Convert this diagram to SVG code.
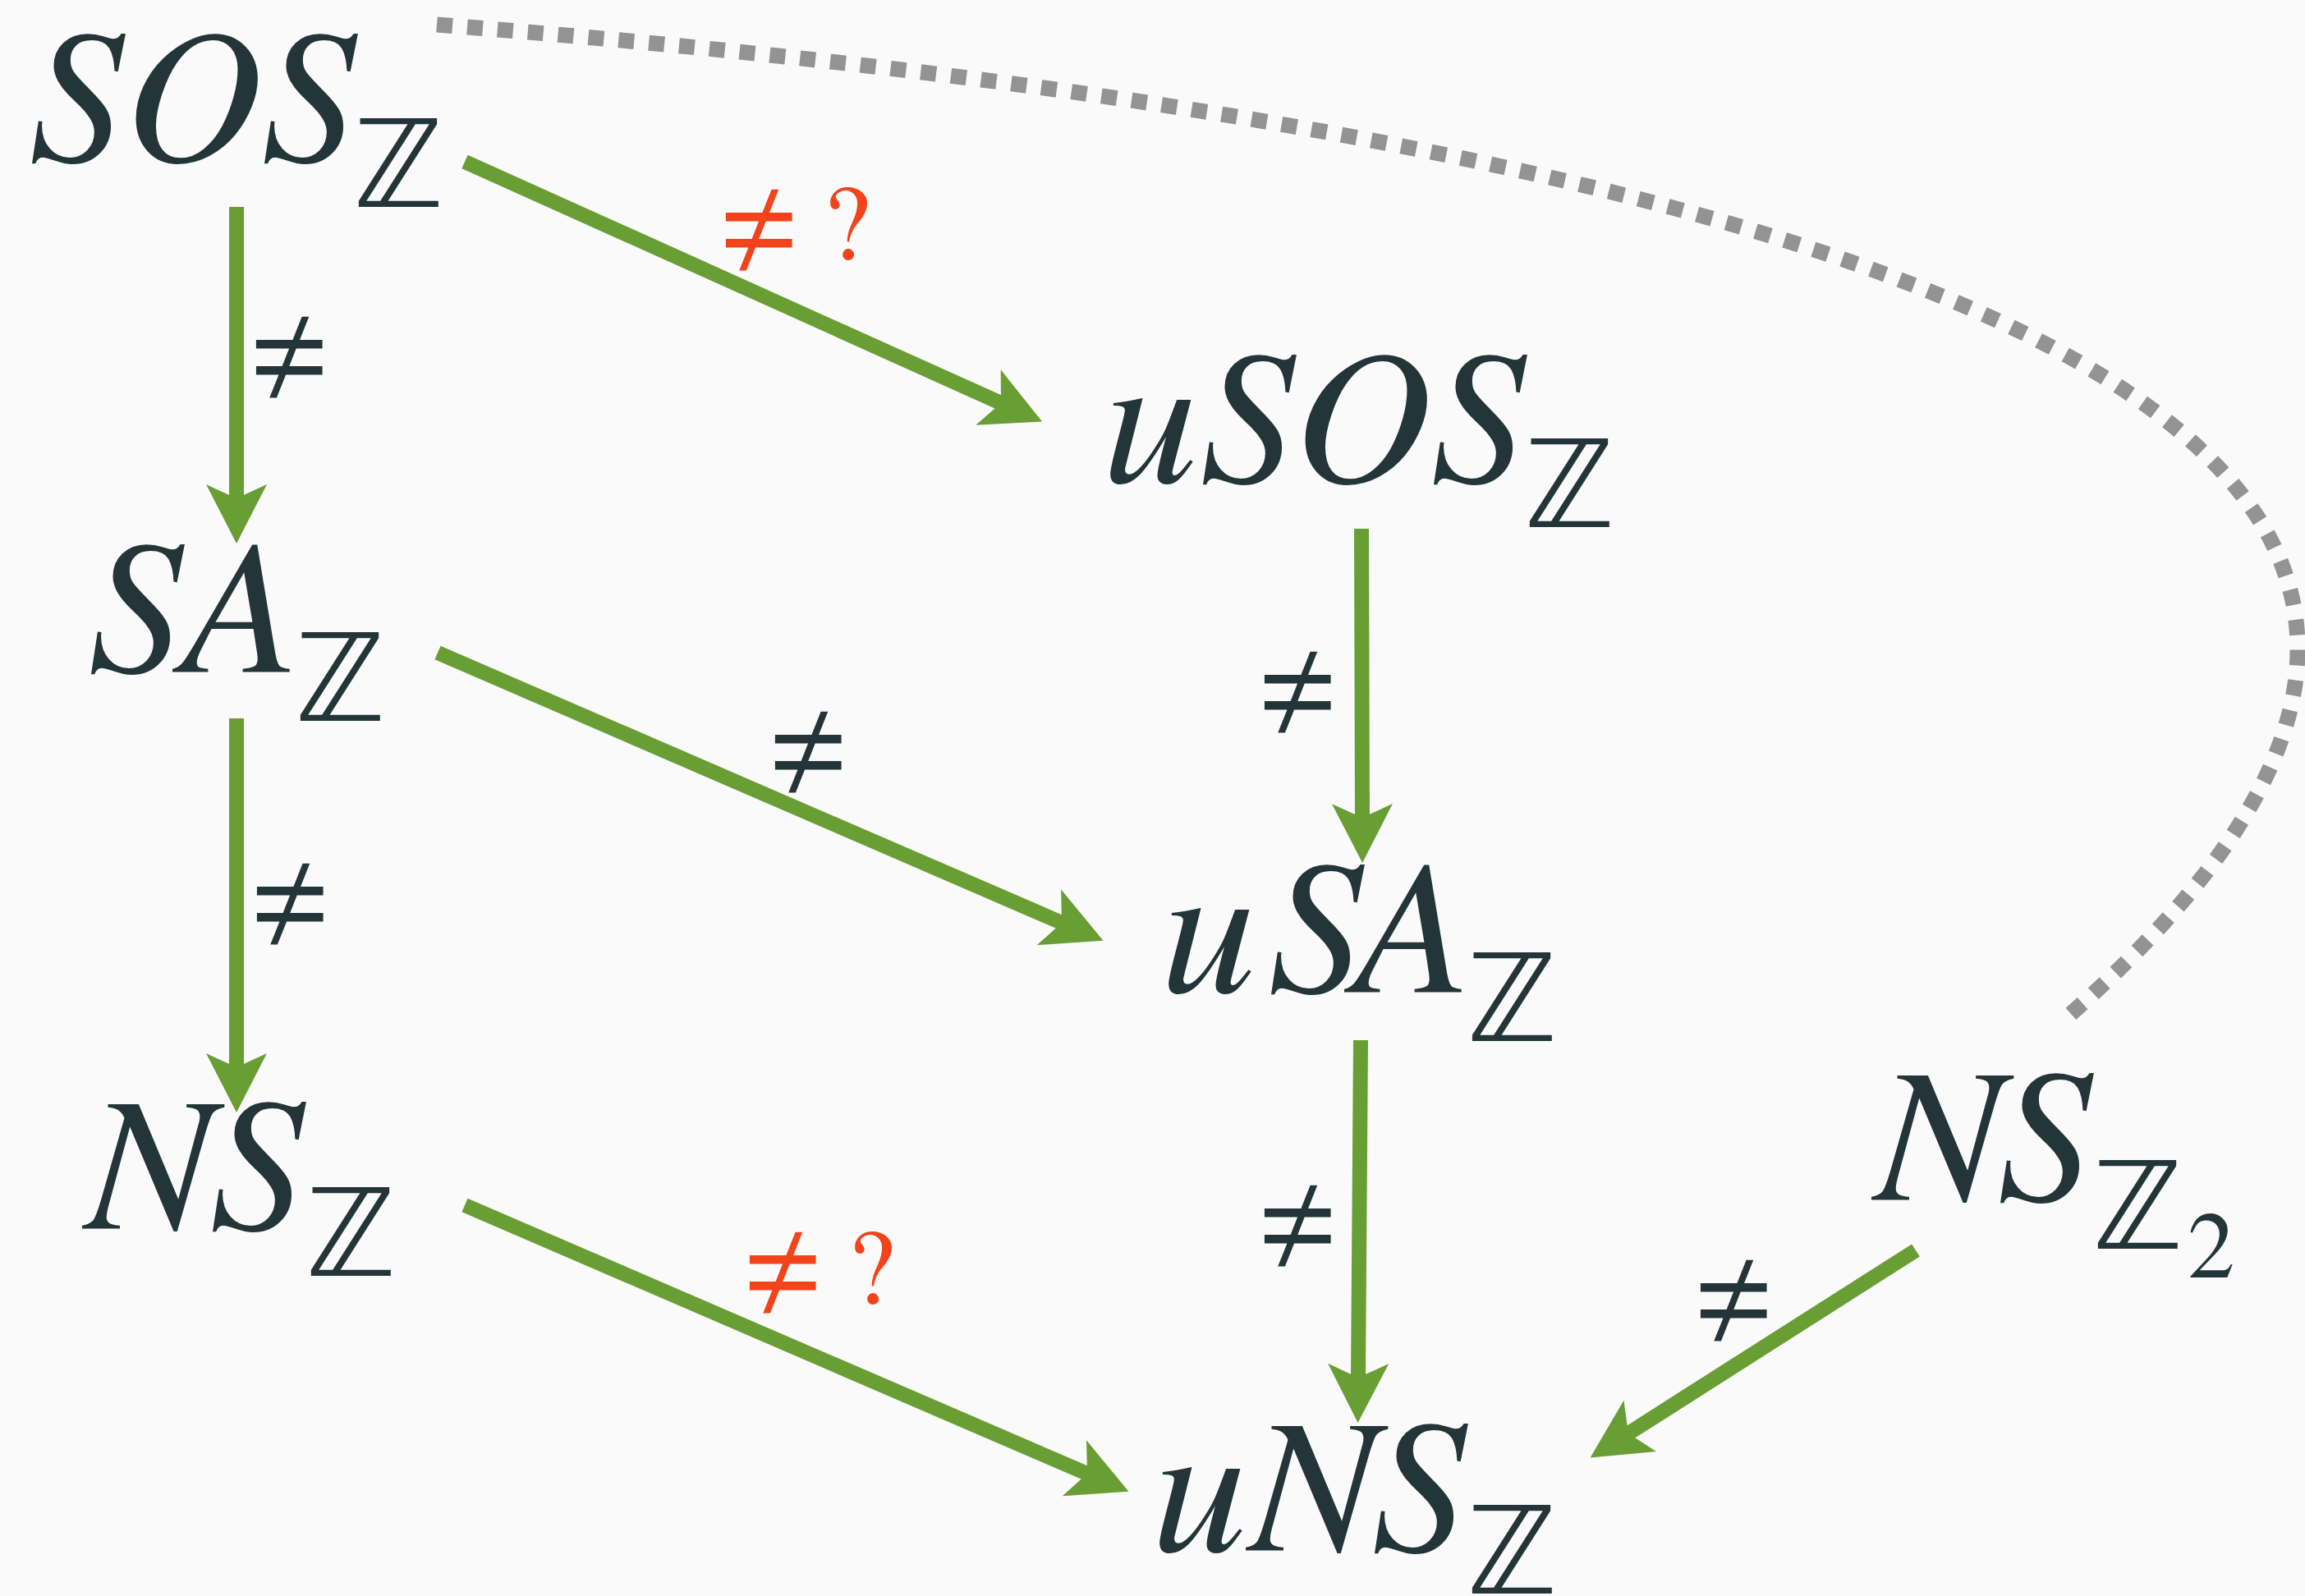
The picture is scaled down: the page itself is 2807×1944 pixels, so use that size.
<svg xmlns="http://www.w3.org/2000/svg" width="2807" height="1944" viewBox="0 0 2807 1944">
<style>
.m{font-family:"Nimbus Roman","FreeSerif","Liberation Serif",serif;font-style:italic;font-size:232px;fill:#233539}
.z{font-family:"DejaVu Sans",sans-serif;font-size:148px;fill:#233539}
.d{font-family:"Nimbus Roman","FreeSerif","Liberation Serif",serif;font-size:115px;fill:#233539}
.ne{font-family:"Nimbus Roman","FreeSerif","Liberation Serif",serif;font-size:160px;fill:#233539;text-anchor:middle}
.red{fill:#f2431b}
.q{font-family:"Nimbus Roman","FreeSerif","Liberation Serif",serif;font-size:130px;fill:#f2431b;text-anchor:middle}
.e{stroke:#699e35;stroke-width:18;fill:none;marker-end:url(#ah)}
</style>
<defs>
<marker id="ah" markerUnits="userSpaceOnUse" viewBox="0 0 72 74" markerWidth="72" markerHeight="74" refX="17" refY="37" orient="auto">
<path d="M72,37 L0,0 L17,37 L0,74 Z" fill="#699e35"/>
</marker>
</defs>
<rect width="2807" height="1944" fill="#fafafa"/>
<g id="connectors">
<path d="M532,30 C2200,160 3360,500 2515,1241" stroke="#939393" stroke-width="19" stroke-dasharray="19 18" fill="none"/>
<line class="e" x1="288" y1="252" x2="288" y2="607"/>
<line class="e" x1="566" y1="197" x2="1219" y2="491"/>
<line class="e" x1="288" y1="875" x2="288" y2="1300"/>
<line class="e" x1="533" y1="795" x2="1293" y2="1124"/>
<line class="e" x1="1658" y1="644" x2="1659" y2="996"/>
<line class="e" x1="1657" y1="1267" x2="1654" y2="1678"/>
<line class="e" x1="566" y1="1468" x2="1324" y2="1795"/>
<line class="e" x1="2333" y1="1523" x2="1983" y2="1746"/>
<text class="ne" x="352" y="476">≠</text>
<text class="ne red" x="924" y="321">≠</text>
<text class="q" x="1031" y="316">?</text>
<text class="ne" x="353" y="1142">≠</text>
<text class="ne" x="984" y="957">≠</text>
<text class="ne" x="1580" y="884">≠</text>
<text class="ne" x="1580" y="1534">≠</text>
<text class="ne red" x="953" y="1591">≠</text>
<text class="q" x="1061" y="1588">?</text>
<text class="ne" x="2111" y="1625">≠</text>
</g>
<g id="SOSZ"><text class="m" x="39 157 322" y="196">SOS</text><text class="z" x="430" y="252">ℤ</text></g>
<g id="uSOSZ"><text class="m" x="1345 1465 1581 1746" y="587">uSOS</text><text class="z" x="1856" y="642">ℤ</text></g>
<g id="SAZ"><text class="m" x="111 210" y="818">SA</text><text class="z" x="359" y="878">ℤ</text></g>
<g id="uSAZ"><text class="m" x="1416 1548 1637" y="1208">uSA</text><text class="z" x="1786" y="1268">ℤ</text></g>
<g id="NSZ"><text class="m" x="100 259" y="1497">NS</text><text class="z" x="372" y="1554">ℤ</text></g>
<g id="NSZ2"><text class="m" x="2279 2436" y="1462">NS</text><text class="z" x="2548" y="1521">ℤ</text><text class="d" x="2664" y="1556">2</text></g>
<g id="uNSZ"><text class="m" x="1405 1517 1674" y="1889">uNS</text><text class="z" x="1786" y="1941">ℤ</text></g>
</svg>
